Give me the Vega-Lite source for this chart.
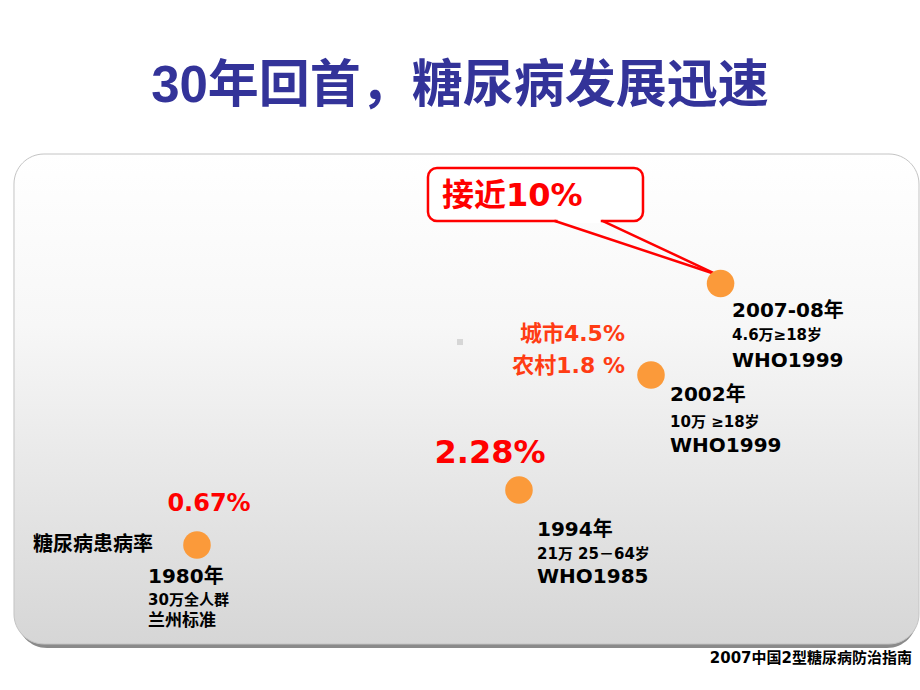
{
  "$schema": "https://vega.github.io/schema/vega-lite/v6.json",
  "width": 920,
  "height": 690,
  "autosize": {"type": "fit", "contains": "padding"},
  "padding": 0,
  "background": "#ffffff",
  "config": {"view": {"stroke": null}},
  "datasets": {
    "panels": [
      {"part": "shadow", "x1": 1.85, "x2": 99.67, "y1": 22.9, "y2": 93.9},
      {"part": "panel", "x1": 1.52, "x2": 99.89, "y1": 22.32, "y2": 93.33},
      {"part": "callout", "x1": 46.52, "x2": 69.89, "y1": 24.35, "y2": 32.03}
    ],
    "pointer": [
      {"side": "gap", "x1": 60.6, "y1": 32.03, "x2": 65.3, "y2": 32.03},
      {"side": "left", "x1": 60.33, "y1": 32.03, "x2": 78.04, "y2": 39.86},
      {"side": "right", "x1": 65.54, "y1": 32.03, "x2": 78.04, "y2": 39.86}
    ],
    "surveys": [
      {"year": "1980", "rate": 0.67, "px": 21.41, "py": 78.99},
      {"year": "1994", "rate": 2.28, "px": 56.41, "py": 71.01},
      {"year": "2002", "rate": 2.6, "px": 70.76, "py": 54.35},
      {"year": "2007-08", "rate": 9.7, "px": 78.32, "py": 41.09}
    ],
    "marker": [{"px": 50.0, "py": 49.57}],
    "leftLabels": [
      {"label": "1980年", "px": 16.09, "py": 83.62, "fs": 20, "col": "#000000"},
      {"label": "30万全人群", "px": 16.09, "py": 86.96, "fs": 15, "col": "#000000"},
      {"label": "兰州标准", "px": 16.09, "py": 90.0, "fs": 17, "col": "#000000"},
      {"label": "1994年", "px": 58.37, "py": 76.81, "fs": 20, "col": "#000000"},
      {"label": "21万 25－64岁", "px": 58.37, "py": 80.29, "fs": 15, "col": "#000000"},
      {"label": "WHO1985", "px": 58.37, "py": 83.62, "fs": 20, "col": "#000000"},
      {"label": "2002年", "px": 72.83, "py": 57.25, "fs": 20, "col": "#000000"},
      {"label": "10万 ≥18岁", "px": 72.83, "py": 61.16, "fs": 15, "col": "#000000"},
      {"label": "WHO1999", "px": 72.83, "py": 64.64, "fs": 20, "col": "#000000"},
      {"label": "2007-08年", "px": 79.57, "py": 45.07, "fs": 20, "col": "#000000"},
      {"label": "4.6万≥18岁", "px": 79.57, "py": 48.55, "fs": 15, "col": "#000000"},
      {"label": "WHO1999", "px": 79.57, "py": 52.32, "fs": 20, "col": "#000000"},
      {"label": "接近10%", "px": 48.04, "py": 28.41, "fs": 32, "col": "#ff0000"}
    ],
    "centerLabels": [
      {"label": "0.67%", "px": 22.72, "py": 73.04, "fs": 24, "col": "#ff0000"},
      {"label": "糖尿病患病率", "px": 10.11, "py": 78.99, "fs": 20, "col": "#000000"},
      {"label": "2.28%", "px": 53.26, "py": 65.65, "fs": 32, "col": "#ff0000"}
    ],
    "rightLabels": [
      {"label": "城市4.5%", "px": 67.93, "py": 48.41, "fs": 22, "col": "#ff3c14"},
      {"label": "农村1.8 %", "px": 67.93, "py": 53.04, "fs": 22, "col": "#ff3c14"},
      {"label": "2007中国2型糖尿病防治指南", "px": 99.13, "py": 95.36, "fs": 15, "col": "#000000"}
    ],
    "heading": [
      {"label": "30年回首，糖尿病发展迅速", "px": 50.0, "py": 12.61}
    ]
  },
  "layer": [
    {
      "data": {"name": "panels"},
      "transform": [{"filter": "datum.part === 'shadow'"}],
      "mark": {"type": "rect", "cornerRadius": 30, "color": "#8a8a8a"},
      "encoding": {
        "x": {"field": "x1", "type": "quantitative", "scale": {"domain": [0, 100], "nice": false, "zero": false}, "axis": null},
        "x2": {"field": "x2"},
        "y": {"field": "y1", "type": "quantitative", "scale": {"domain": [0, 100], "nice": false, "zero": false, "reverse": true}, "axis": null},
        "y2": {"field": "y2"}
      }
    },
    {
      "data": {"name": "panels"},
      "transform": [{"filter": "datum.part === 'panel'"}],
      "mark": {
        "type": "rect",
        "cornerRadius": 30,
        "stroke": "#c4c4c4",
        "strokeWidth": 1,
        "fill": {
          "gradient": "linear",
          "x1": 0, "y1": 0, "x2": 0, "y2": 1,
          "stops": [
            {"offset": 0, "color": "#ffffff"},
            {"offset": 0.35, "color": "#f7f7f7"},
            {"offset": 1, "color": "#d6d6d6"}
          ]
        }
      },
      "encoding": {
        "x": {"field": "x1", "type": "quantitative", "axis": null},
        "x2": {"field": "x2"},
        "y": {"field": "y1", "type": "quantitative", "axis": null},
        "y2": {"field": "y2"}
      }
    },
    {
      "data": {"name": "panels"},
      "transform": [{"filter": "datum.part === 'callout'"}],
      "mark": {"type": "rect", "cornerRadius": 9, "fill": "#ffffff", "stroke": "#ff0000", "strokeWidth": 2.5},
      "encoding": {
        "x": {"field": "x1", "type": "quantitative", "axis": null},
        "x2": {"field": "x2"},
        "y": {"field": "y1", "type": "quantitative", "axis": null},
        "y2": {"field": "y2"}
      }
    },
    {
      "data": {"name": "pointer"},
      "transform": [{"filter": "datum.side === 'gap'"}],
      "mark": {"type": "rule", "color": "#ffffff", "strokeWidth": 4},
      "encoding": {
        "x": {"field": "x1", "type": "quantitative", "axis": null},
        "x2": {"field": "x2"},
        "y": {"field": "y1", "type": "quantitative", "axis": null},
        "y2": {"field": "y2"}
      }
    },
    {
      "data": {"name": "pointer"},
      "transform": [{"filter": "datum.side !== 'gap'"}],
      "mark": {"type": "rule", "color": "#ff0000", "strokeWidth": 2.5, "strokeCap": "round"},
      "encoding": {
        "x": {"field": "x1", "type": "quantitative", "axis": null},
        "x2": {"field": "x2"},
        "y": {"field": "y1", "type": "quantitative", "axis": null},
        "y2": {"field": "y2"}
      }
    },
    {
      "data": {"name": "surveys"},
      "mark": {"type": "point", "filled": true, "shape": "circle", "size": 760, "color": "#fb9a3a", "opacity": 1, "strokeWidth": 0},
      "encoding": {
        "x": {"field": "px", "type": "quantitative", "axis": null},
        "y": {"field": "py", "type": "quantitative", "axis": null}
      }
    },
    {
      "data": {"name": "marker"},
      "mark": {"type": "point", "filled": true, "shape": "square", "size": 36, "color": "#d6d6d6", "opacity": 1, "strokeWidth": 0},
      "encoding": {
        "x": {"field": "px", "type": "quantitative", "axis": null},
        "y": {"field": "py", "type": "quantitative", "axis": null}
      }
    },
    {
      "data": {"name": "leftLabels"},
      "mark": {"type": "text", "align": "left", "baseline": "middle", "fontWeight": "bold", "font": "DejaVu Sans, Noto Sans CJK SC"},
      "encoding": {
        "x": {"field": "px", "type": "quantitative", "axis": null},
        "y": {"field": "py", "type": "quantitative", "axis": null},
        "text": {"field": "label"},
        "size": {"field": "fs", "type": "quantitative", "scale": null},
        "color": {"field": "col", "type": "nominal", "scale": null}
      }
    },
    {
      "data": {"name": "centerLabels"},
      "mark": {"type": "text", "align": "center", "baseline": "middle", "fontWeight": "bold", "font": "DejaVu Sans, Noto Sans CJK SC"},
      "encoding": {
        "x": {"field": "px", "type": "quantitative", "axis": null},
        "y": {"field": "py", "type": "quantitative", "axis": null},
        "text": {"field": "label"},
        "size": {"field": "fs", "type": "quantitative", "scale": null},
        "color": {"field": "col", "type": "nominal", "scale": null}
      }
    },
    {
      "data": {"name": "rightLabels"},
      "mark": {"type": "text", "align": "right", "baseline": "middle", "fontWeight": "bold", "font": "DejaVu Sans, Noto Sans CJK SC"},
      "encoding": {
        "x": {"field": "px", "type": "quantitative", "axis": null},
        "y": {"field": "py", "type": "quantitative", "axis": null},
        "text": {"field": "label"},
        "size": {"field": "fs", "type": "quantitative", "scale": null},
        "color": {"field": "col", "type": "nominal", "scale": null}
      }
    },
    {
      "data": {"name": "heading"},
      "mark": {"type": "text", "align": "center", "baseline": "middle", "fontWeight": "bold", "fontSize": 51, "color": "#333399", "font": "Liberation Sans, Noto Sans CJK SC"},
      "encoding": {
        "x": {"field": "px", "type": "quantitative", "axis": null},
        "y": {"field": "py", "type": "quantitative", "axis": null},
        "text": {"field": "label"}
      }
    }
  ]
}
